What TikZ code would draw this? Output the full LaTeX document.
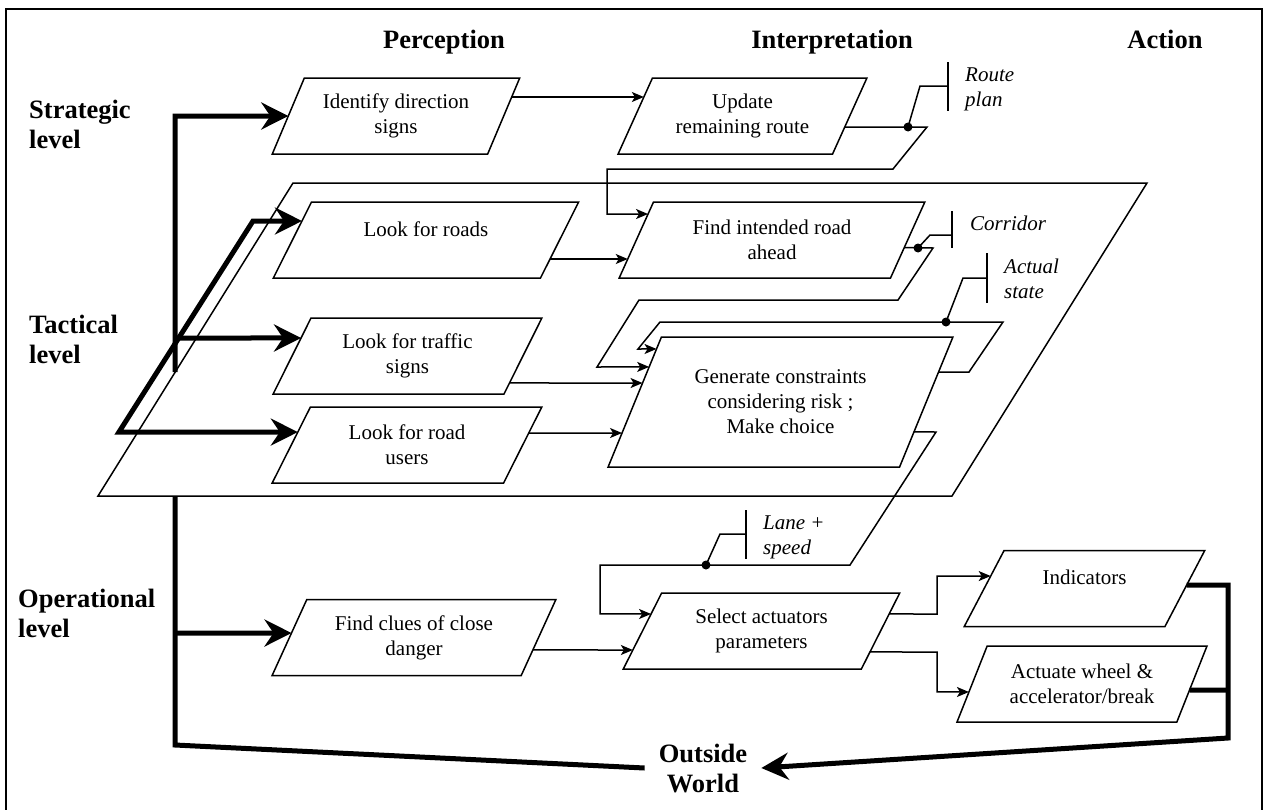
\documentclass[tikz,border=0pt]{standalone}
\usepackage{fontspec}
\setmainfont{Liberation Serif}
\usetikzlibrary{shapes.geometric,arrows.meta,calc}

\begin{document}
\begin{tikzpicture}[x=1pt,y=-1pt]
    \useasboundingbox (0,0) rectangle (1265,809);
    \draw[line width=2pt] (6,815) -- (6,9) -- (1262,9) -- (1262,815);

    \tikzset{BoxStyle/.style={draw, line width=1.5pt, trapezium, trapezium left angle=60,
        trapezium right angle=120, trapezium stretches=true, minimum height=76pt,
        inner sep=0pt, outer sep=0pt, align=center, font=\fontsize{21}{25}\selectfont}}
    \tikzset{OneLine/.style={text height=14pt, text depth=22pt}}
    \tikzset{LevelStyle/.style={inner sep=0pt, align=left, font=\fontsize{26.5}{30}\selectfont\bfseries}}
    \tikzset{NoteStyle/.style={inner sep=0pt, align=left, anchor=north west, font=\fontsize{21}{25}\selectfont\itshape}}

    \node[LevelStyle, anchor=base] (perc)   at (444,48)  {Perception};
    \node[LevelStyle, anchor=base] (interp) at (832,48)  {Interpretation};
    \node[LevelStyle, anchor=base] (action) at (1165,48) {Action};
    \node[LevelStyle, anchor=north west] (strat) at (29,100) {Strategic\\level};
    \node[LevelStyle, anchor=north west] (tact)  at (29,315) {Tactical\\level};
    \node[LevelStyle, anchor=north west] (oper)  at (18,589) {Operational\\level};
    \node[LevelStyle, align=center, inner xsep=14pt] (world) at (703,768) {Outside\\World};

    \draw[line width=1.5pt] (293,183) -- (1147,183) -- (952,496) -- (98,496) -- cycle;

    \node[BoxStyle, minimum width=248pt] (ids) at (396,116) {Identify direction\\signs};
    \node[BoxStyle, minimum width=249pt] (upd) at (742.5,116) {Update\\remaining route};
    \node[BoxStyle, OneLine, minimum width=306pt] (roads) at (426,240) {Look for roads};
    \node[BoxStyle, minimum width=306pt] (road) at (772,240) {Find intended road\\ahead};
    \node[BoxStyle, minimum width=269pt] (tsigns) at (407.5,356) {Look for traffic\\signs};
    \node[BoxStyle, minimum width=270pt] (users) at (407,445) {Look for road\\users};
    \node[BoxStyle, minimum width=345pt, minimum height=130pt, trapezium left angle=59,
        trapezium right angle=121] (choice) at (780.5,402) {Generate constraints\\considering risk ;\\Make choice};
    \node[BoxStyle, minimum width=284pt] (clues) at (414,637.5) {Find clues of close\\danger};
    \node[BoxStyle, minimum width=277pt] (actpar) at (761.5,631) {Select actuators\\parameters};
    \node[BoxStyle, OneLine, minimum width=241pt] (indic) at (1084.5,588.5) {Indicators};
    \node[BoxStyle, minimum width=250pt] (wheel) at (1082,684) {Actuate wheel \&\\accelerator/break};

    \node[NoteStyle] (plan)  at (965,68)    {Route\\plan};
    \node[NoteStyle] (corr)  at (970,215.5) {Corridor};
    \node[NoteStyle] (state) at (1004,258.5) {Actual\\state};
    \node[NoteStyle] (lane)  at (763,516)   {Lane +\\speed};

    \tikzset{EdgeStyle/.style={line width=1.5pt, -{Stealth[length=12pt,width=10pt,inset=3pt]}}}
    \tikzset{LineStyle/.style={line width=1.5pt}}
    \tikzset{BusStyle/.style={line width=5pt}}
    \tikzset{BusArrow/.style={line width=5pt, -{Stealth[length=27pt,width=27pt,inset=9pt]}}}

    \draw[EdgeStyle] ($(ids.bottom right corner)!.75!(ids.top right corner)$)
        -- ($(upd.bottom left corner)!.75!(upd.top left corner)$);
    \draw[EdgeStyle] ($(upd.bottom right corner)!.355!(upd.top right corner)$)
        -- (927,127) -- (893,169) -- (607,169) |- ($(road.bottom left corner)!.842!(road.top left corner)$);
    \draw[EdgeStyle] ($(roads.bottom right corner)!.25!(roads.top right corner)$)
        -- ($(road.bottom left corner)!.25!(road.top left corner)$);
    \draw[EdgeStyle] ($(road.bottom right corner)!.4!(road.top right corner)$)
        -- (933,248) -- (898,300) -- (639,300) -- (597,367)
        -- ($(choice.bottom left corner)!.77!(choice.top left corner)$);
    \draw[EdgeStyle] ($(choice.bottom right corner)!.73!(choice.top right corner)$)
        -- (969,372) -- (1003,322) -- (660,322) -- (638,349)
        -- ($(choice.bottom left corner)!.908!(choice.top left corner)$);
    \draw[EdgeStyle] ($(tsigns.bottom right corner)!.145!(tsigns.top right corner)$)
        -- ($(choice.bottom left corner)!.646!(choice.top left corner)$);
    \draw[EdgeStyle] ($(users.bottom right corner)!.658!(users.top right corner)$)
        -- ($(choice.bottom left corner)!.2615!(choice.top left corner)$);
    \draw[EdgeStyle] ($(choice.bottom right corner)!.27!(choice.top right corner)$)
        -- (936,432) -- (850,565) -- (600,565) |- ($(actpar.bottom left corner)!.724!(actpar.top left corner)$);
    \draw[EdgeStyle] ($(clues.bottom right corner)!.336!(clues.top right corner)$)
        -- ($(actpar.bottom left corner)!.25!(actpar.top left corner)$);
    \draw[EdgeStyle] ($(actpar.bottom right corner)!.724!(actpar.top right corner)$)
        -- (937,614) |- ($(indic.bottom left corner)!.664!(indic.top left corner)$);
    \draw[EdgeStyle] ($(actpar.bottom right corner)!.224!(actpar.top right corner)$)
        -- (937,652) |- ($(wheel.bottom left corner)!.395!(wheel.top left corner)$);

    \fill (908,127) circle (4.5pt);
    \draw[LineStyle] (908,127) -- (920,86) -- (948,86);
    \draw[LineStyle] (948,62) -- (948,111);
    \fill (918,248) circle (4.5pt);
    \draw[LineStyle] (918,248) -- (930,235) -- (952,235);
    \draw[LineStyle] (952,211) -- (952,248);
    \fill (946,322) circle (4.5pt);
    \draw[LineStyle] (946,322) -- (963,278) -- (987,278);
    \draw[LineStyle] (987,253) -- (987,303);
    \fill (706,565) circle (4.5pt);
    \draw[LineStyle] (706,565) -- (720,534) -- (746,534);
    \draw[LineStyle] (746,510) -- (746,559);

    \draw[BusArrow] (175,372) -- (175,116) -- (ids.west);
    \draw[BusArrow] (175,338) -- ($(tsigns.bottom left corner)!.737!(tsigns.top left corner)$);
    \draw[BusArrow, {Stealth[length=27pt,width=27pt,inset=9pt]}-{Stealth[length=27pt,width=27pt,inset=9pt]}]
        ($(roads.bottom left corner)!.75!(roads.top left corner)$) -- (253,221) -- (119,432)
        -- ($(users.bottom left corner)!.67!(users.top left corner)$);
    \draw[BusArrow] (175,633) -- ($(clues.bottom left corner)!.559!(clues.top left corner)$);
    \draw[BusStyle] (175,496) -- (175,745) -- (world.west);
    \draw[BusStyle] ($(wheel.bottom right corner)!.421!(wheel.top right corner)$) -- (1228,690);
    \draw[BusArrow] ($(indic.bottom right corner)!.546!(indic.top right corner)$)
        -- (1228,585) -- (1228,738) -- (world.east);

\end{tikzpicture}
\end{document}
